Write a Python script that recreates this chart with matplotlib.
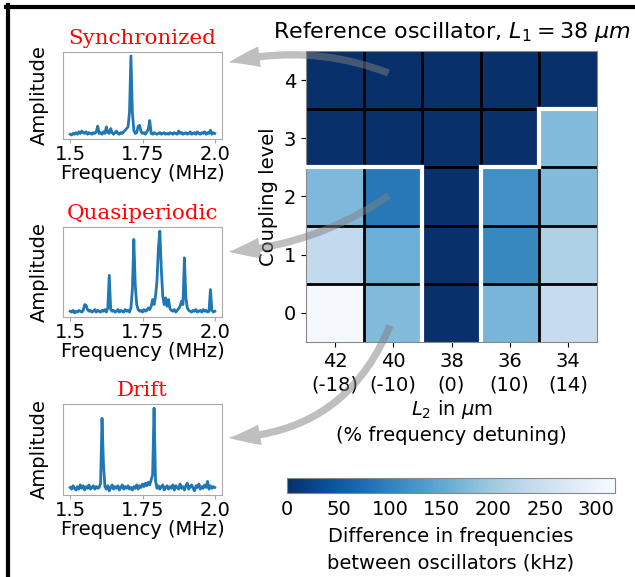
import numpy as np
import matplotlib.pyplot as plt
from matplotlib.patches import FancyArrowPatch
from matplotlib.lines import Line2D

plt.rcParams['font.size'] = 14
plt.rcParams['font.family'] = 'DejaVu Sans'

# heatmap: difference in frequencies (kHz), rows = coupling level 0..4
lengths = ["42", "40", "38", "36", "34"]
detuning = ["-18", "-10", "0", "10", "14"]
coupling_levels = [0, 1, 2, 3, 4]
diff_khz = np.array([
    [315, 178, 0, 170, 240],   # level 0
    [235, 159, 0, 108, 216],   # level 1
    [175, 89, 0, 118, 178],    # level 2
    [0, 0, 0, 0, 178],         # level 3
    [0, 0, 0, 0, 0],           # level 4
])
vmax_khz = 318

# spectra, sampled every 5 kHz from 1.5 to 2.0 MHz
freq_mhz = np.linspace(1.5, 2.0, 101)
amp_sync = [
    0.03, 0.02, 0.04, 0.03, 0.05, 0.03, 0.06, 0.04, 0.07, 0.05,
    0.04, 0.06, 0.03, 0.05, 0.04, 0.03, 0.05, 0.04, 0.06, 0.13,
    0.04, 0.05, 0.03, 0.06, 0.04, 0.12, 0.05, 0.04, 0.10, 0.05,
    0.03, 0.05, 0.07, 0.04, 0.03, 0.05, 0.04, 0.06, 0.08, 0.10,
    0.12, 0.30, 1.00, 0.30, 0.08, 0.04, 0.05, 0.13, 0.14, 0.06,
    0.04, 0.05, 0.03, 0.06, 0.09, 0.20, 0.04, 0.03, 0.05, 0.04,
    0.03, 0.04, 0.05, 0.03, 0.04, 0.05, 0.03, 0.04, 0.03, 0.05,
    0.04, 0.03, 0.05, 0.04, 0.03, 0.07, 0.04, 0.05, 0.03, 0.04,
    0.05, 0.03, 0.04, 0.06, 0.03, 0.04, 0.05, 0.03, 0.06, 0.04,
    0.03, 0.05, 0.04, 0.06, 0.03, 0.05, 0.04, 0.08, 0.03, 0.05,
    0.04,
]
amp_quasi = [
    0.04, 0.03, 0.05, 0.02, 0.04, 0.03, 0.05, 0.04, 0.03, 0.05,
    0.12, 0.11, 0.06, 0.04, 0.05, 0.03, 0.04, 0.06, 0.03, 0.05,
    0.04, 0.03, 0.05, 0.04, 0.06, 0.03, 0.08, 0.47, 0.06, 0.04,
    0.05, 0.03, 0.04, 0.06, 0.03, 0.05, 0.04, 0.03, 0.06, 0.04,
    0.05, 0.03, 0.08, 0.30, 0.90, 0.35, 0.12, 0.06, 0.04, 0.05,
    0.03, 0.06, 0.04, 0.05, 0.08, 0.06, 0.10, 0.18, 0.12, 0.22,
    0.40, 0.80, 1.00, 0.55, 0.22, 0.12, 0.20, 0.10, 0.18, 0.07,
    0.05, 0.04, 0.06, 0.03, 0.05, 0.07, 0.10, 0.16, 0.12, 0.68,
    0.20, 0.08, 0.05, 0.04, 0.03, 0.05, 0.04, 0.06, 0.03, 0.04,
    0.05, 0.03, 0.06, 0.04, 0.05, 0.03, 0.04, 0.30, 0.05, 0.03,
    0.04,
]
amp_drift = [
    0.07, 0.05, 0.09, 0.06, 0.04, 0.08, 0.05, 0.10, 0.06, 0.09,
    0.04, 0.08, 0.06, 0.10, 0.05, 0.07, 0.09, 0.05, 0.08, 0.06,
    0.07, 0.12, 0.88, 0.34, 0.08, 0.05, 0.09, 0.03, 0.07, 0.10,
    0.05, 0.08, 0.06, 0.09, 0.04, 0.07, 0.10, 0.05, 0.08, 0.06,
    0.09, 0.05, 0.07, 0.04, 0.08, 0.06, 0.10, 0.05, 0.09, 0.07,
    0.11, 0.08, 0.12, 0.09, 0.13, 0.10, 0.16, 0.22, 1.00, 0.15,
    0.06, 0.09, 0.05, 0.08, 0.10, 0.04, 0.07, 0.09, 0.05, 0.08,
    0.06, 0.10, 0.04, 0.09, 0.07, 0.05, 0.11, 0.06, 0.08, 0.04,
    0.09, 0.12, 0.05, 0.08, 0.10, 0.06, 0.03, 0.09, 0.07, 0.11,
    0.05, 0.08, 0.06, 0.10, 0.07, 0.14, 0.05, 0.09, 0.06, 0.08,
    0.07,
]
spectra = [("Synchronized", amp_sync), ("Quasiperiodic", amp_quasi), ("Drift", amp_drift)]

W, H = 635, 577
fig = plt.figure(figsize=(W / 100, H / 100), dpi=100)


def px_box(x0, y0, x1, y1):
    # pixel box (top-left origin) -> figure fraction rect
    return [x0 / W, 1 - y1 / H, (x1 - x0) / W, (y1 - y0) / H]


# heatmap
ax = fig.add_axes(px_box(306, 51, 597, 342))
im = ax.imshow(diff_khz, cmap="Blues_r", vmin=0, vmax=vmax_khz, origin="lower", aspect="auto")
for k in range(1, 5):
    ax.axvline(k - 0.5, color="k", lw=2)
    ax.axhline(k - 0.5, color="k", lw=2)

# white border around the synchronized (zero difference) region
sync = diff_khz == 0
nr, nc = sync.shape
for r in range(nr):
    for c in range(nc):
        if c + 1 < nc and sync[r, c] != sync[r, c + 1]:
            ax.plot([c + 0.5, c + 0.5], [r - 0.5, r + 0.5], color="white", lw=3,
                    solid_capstyle="projecting", zorder=3)
        if r + 1 < nr and sync[r, c] != sync[r + 1, c]:
            ax.plot([c - 0.5, c + 0.5], [r + 0.5, r + 0.5], color="white", lw=3,
                    solid_capstyle="projecting", zorder=3)
ax.set_xlim(-0.5, nc - 0.5)
ax.set_ylim(-0.5, nr - 0.5)
ax.set_xticks(range(nc))
ax.set_xticklabels([f"{l}\n({d})" for l, d in zip(lengths, detuning)], linespacing=1.3)
ax.set_yticks(coupling_levels)
ax.set_xlabel("$L_2$ in $\\mu$m\n(% frequency detuning)", linespacing=1.3, labelpad=3)
ax.set_ylabel("Coupling level")
ax.set_title("Reference oscillator, $L_1 = 38\\ \\mu m$", pad=9, fontsize=16)
for s in ax.spines.values():
    s.set_color("#888888")
    s.set_linewidth(0.8)

# colorbar
cax = fig.add_axes(px_box(287, 478, 615, 493))
cb = fig.colorbar(im, cax=cax, orientation="horizontal")
cb.set_ticks([0, 50, 100, 150, 200, 250, 300])
cb.outline.set_edgecolor("#888888")
cb.outline.set_linewidth(0.8)
cax.tick_params(length=0, pad=5)
cb.set_label("Difference in frequencies\nbetween oscillators (kHz)", linespacing=1.45, labelpad=6)

# spectra panels
boxes = [(63, 52, 222, 139), (63, 227, 222, 317), (63, 404, 222, 495)]
spec_axes = []
for (title, amp), box in zip(spectra, boxes):
    sa = fig.add_axes(px_box(*box))
    sa.plot(freq_mhz, amp, color="#1f77b4", lw=2)
    sa.set_xticks([1.5, 1.75, 2.0])
    sa.set_xticklabels(["1.5", "1.75", "2.0"])
    sa.set_yticks([])
    sa.tick_params(axis="x", length=3, color="#aaaaaa", pad=1)
    sa.set_xlabel("Frequency (MHz)", labelpad=0)
    sa.set_ylabel("Amplitude", labelpad=10)
    sa.set_title(title, color="red", family="DejaVu Serif", fontsize=15.4, pad=6)
    for s in sa.spines.values():
        s.set_color("#aaaaaa")
    spec_axes.append(sa)

# curved arrows from heatmap cells to the spectra
arrows = [((391, 74), (226, 63), 0.16), ((391, 194), (226, 252), -0.14), ((391, 323), (226, 438), -0.33)]
for (xa, ya), (xb, yb), rad in arrows:
    arr = FancyArrowPatch((xa / W, 1 - ya / H), (xb / W, 1 - yb / H), transform=fig.transFigure,
                          connectionstyle=f"arc3,rad={rad}",
                          arrowstyle="simple,head_width=1.0,head_length=1.5,tail_width=0.35",
                          mutation_scale=15, color="gray", alpha=0.5, lw=0, zorder=10)
    fig.patches.append(arr)

# frame lines (top and left)
fig.add_artist(Line2D([6 / W, 1], [1 - 7 / H, 1 - 7 / H], transform=fig.transFigure, color="k", lw=3))
fig.add_artist(Line2D([7.5 / W, 7.5 / W], [0, 1 - 5 / H], transform=fig.transFigure, color="k", lw=3))

fig.savefig("out.png", dpi=100)
